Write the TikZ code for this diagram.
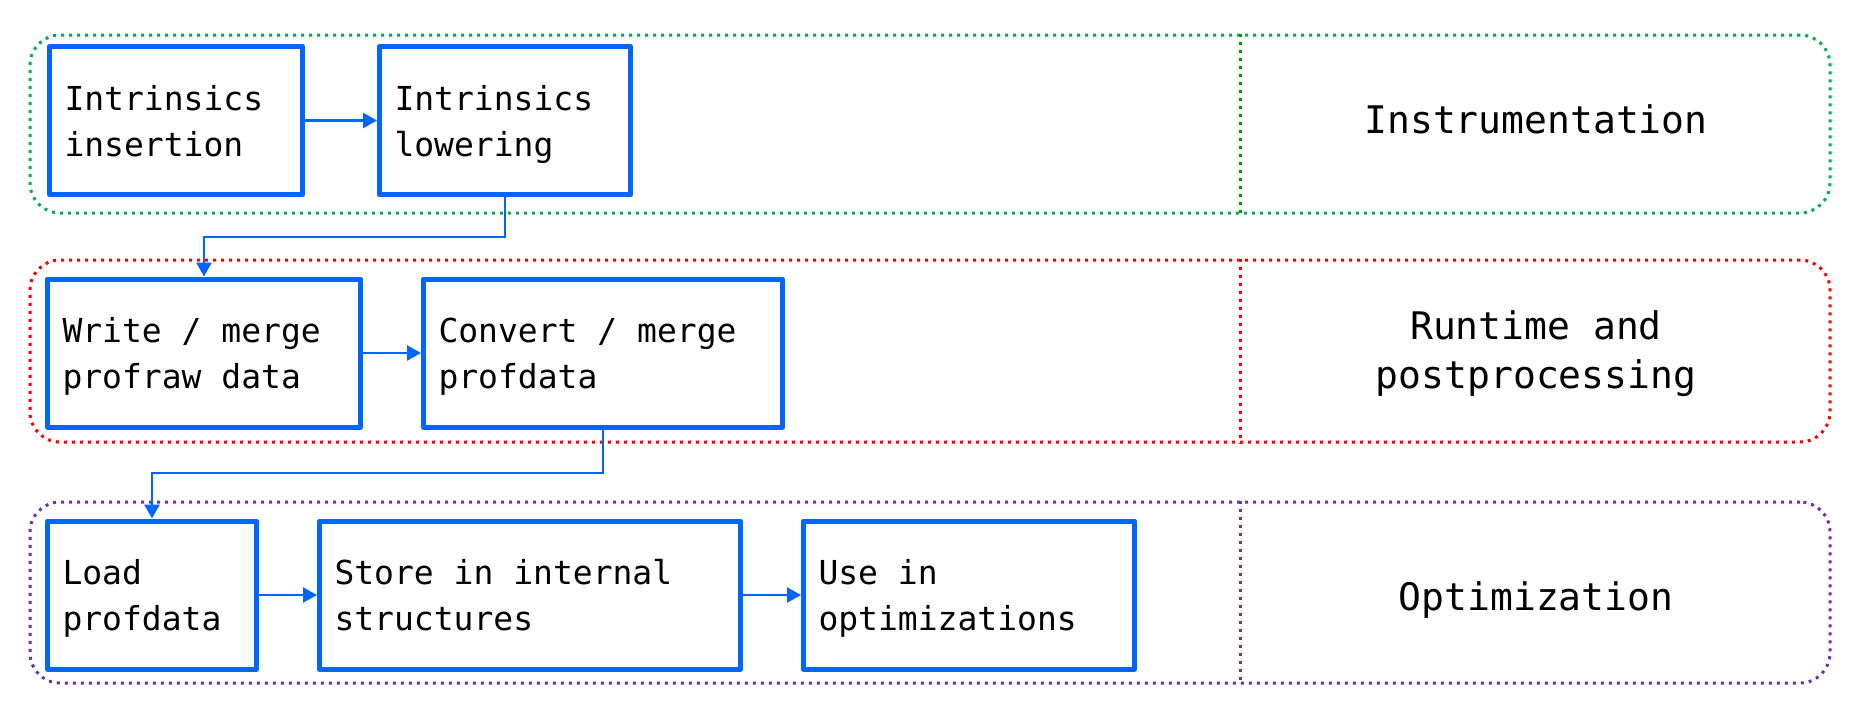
\documentclass[tikz,border=0pt]{standalone}
\usepackage{fontspec}
\newfontfamily\monofont{DejaVu Sans Mono}
\usetikzlibrary{arrows.meta}
\definecolor{boxblue}{HTML}{0066FF}
\definecolor{grgreen}{HTML}{00B050}
\definecolor{divgreen}{HTML}{009A00}
\definecolor{grred}{HTML}{FF0000}
\definecolor{grpurple}{HTML}{7030A0}
\newcommand{\monospc}{\spaceskip=0.602em\relax\xspaceskip=0.602em\relax}
\newcommand{\firstln}{\monospc\rule{0pt}{33pt}}
\newcommand{\lastln}{\rule[-8pt]{0pt}{8pt}}
\begin{document}
\begin{tikzpicture}[x=1pt,y=-1pt,
  stepbox/.style={draw=boxblue, line width=5pt, line join=round, minimum height=148pt,
    inner xsep=15pt, inner ysep=0pt, align=left,
    font=\monofont\fontsize{33}{46}\selectfont},
  arr/.style={draw=boxblue, line width=2.5pt, -{Triangle[length=14pt,width=15pt]}},
  grp/.style={line width=3pt, dash pattern=on 3pt off 5pt, rounded corners=30pt,
    minimum width=1800pt, inner sep=0pt},
  sepline/.style={line width=3pt, dash pattern=on 3pt off 5pt},
  lbl/.style={font=\monofont\fontsize{38}{49}\selectfont, align=center, inner sep=0pt}]
\useasboundingbox (0,0) rectangle (1861,720);

% group frames
\node[grp, draw=grgreen, minimum height=178pt] (g1) at (930,124) {};
\node[grp, draw=grred, minimum height=182pt] (g2) at (930,351) {};
\node[grp, draw=grpurple, minimum height=181pt] (g3) at (930,592.5) {};
\coordinate (dv) at (1240,0);
\draw[sepline, draw=divgreen] (g1.north -| dv) -- (g1.south -| dv);
\draw[sepline, draw=grred] (g2.north -| dv) -- (g2.south -| dv);
\draw[sepline, draw=grpurple] (g3.north -| dv) -- (g3.south -| dv);

% labels
\node[lbl, text height=26pt, text depth=0pt] (t1) at (1536,120) {Instrumentation};
\node[lbl] (t2) at (1536,353) {\monospc\rule{0pt}{32pt}Runtime and\\postprocessing\rule[-10pt]{0pt}{10pt}};
\node[lbl, text height=26pt, text depth=0pt] (t3) at (1536,597) {Optimization};

% step boxes
\node[stepbox, text width=223pt] (b1) at (176,120.5) {\firstln Intrinsics\\insertion\lastln};
\node[stepbox, text width=221pt] (b2) at (505,120.5) {\firstln Intrinsics\\lowering\lastln};
\node[stepbox, text width=283pt] (w) at (204,353) {\firstln Write / merge\\profraw data\lastln};
\node[stepbox, text width=329pt] (c) at (603,353) {\firstln Convert / merge\\profdata\lastln};
\node[stepbox, text width=179pt] (l) at (152,595) {\firstln Load\\profdata\lastln};
\node[stepbox, text width=391pt] (s) at (530,595) {\firstln Store in internal\\structures\lastln};
\node[stepbox, text width=301pt] (u) at (969,595) {\firstln Use in\\optimizations\lastln};

% connectors
\coordinate (j1) at (505,237);
\coordinate (j2) at (603,473);
\draw[arr] (b1) -- (b2);
\draw[arr] (b2.south) -- (j1) -| (w.north);
\draw[arr] (w) -- (c);
\draw[arr] (c.south) -- (j2) -| (l.north);
\draw[arr] (l) -- (s);
\draw[arr] (s) -- (u);
\end{tikzpicture}
\end{document}
